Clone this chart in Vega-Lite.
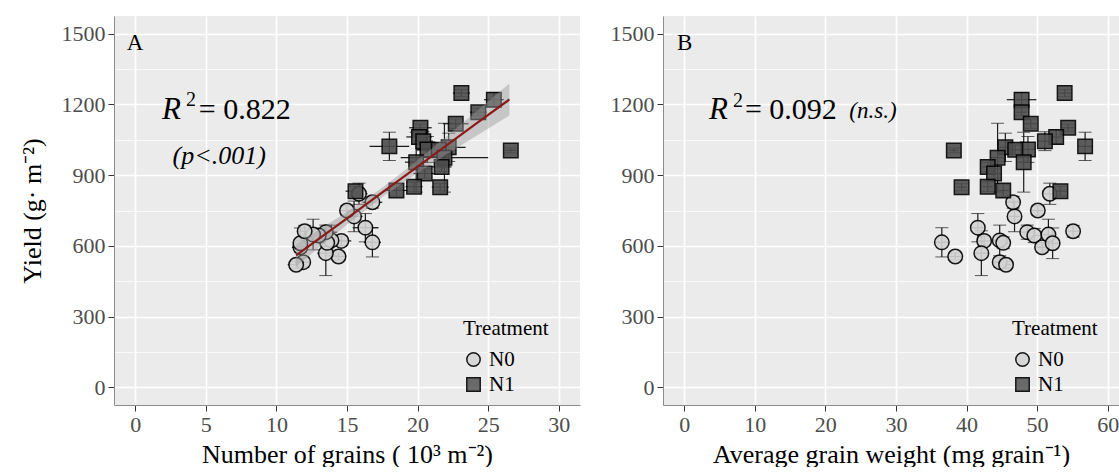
{
  "$schema": "https://vega.github.io/schema/vega-lite/v6.json",
  "background": "white",
  "padding": {"left": 19, "top": 16, "right": 0, "bottom": 0},
  "config": {
    "font": "Liberation Serif",
    "view": {"fill": "#EBEBEB", "stroke": null},
    "concat": {"spacing": 30},
    "axis": {
      "domainColor": "#8C8C8C",
      "domainWidth": 1,
      "tickColor": "#333333",
      "tickSize": 6,
      "tickWidth": 1,
      "labelFont": "Liberation Serif",
      "labelFontSize": 22,
      "labelColor": "#4D4D4D",
      "labelPadding": 3,
      "labelFlush": false,
      "labelOverlap": false,
      "titleFont": "Liberation Serif",
      "titleFontSize": 26,
      "titleFontWeight": "normal",
      "titleColor": "black",
      "gridColor": "white"
    },
    "legend": {
      "titleFont": "Liberation Serif",
      "titleFontSize": 21,
      "titleFontWeight": "normal",
      "titleColor": "black",
      "labelFont": "Liberation Serif",
      "labelFontSize": 21,
      "labelColor": "black",
      "symbolSize": 180,
      "symbolStrokeWidth": 1.5,
      "rowPadding": 3,
      "titlePadding": 10,
      "labelOffset": 5
    }
  },
  "datasets": {
    "obs": [
      {"trt": "N0", "grains": 16.8, "gse": 0.6, "weight": 36.5, "wse": 0.9, "yield": 615, "yse": 62},
      {"trt": "N0", "grains": 14.4, "gse": 0.5, "weight": 38.4, "wse": 0.8, "yield": 555, "yse": 15},
      {"trt": "N0", "grains": 16.3, "gse": 0.9, "weight": 41.6, "wse": 0.8, "yield": 677, "yse": 60},
      {"trt": "N0", "grains": 14.6, "gse": 0.7, "weight": 42.5, "wse": 1.0, "yield": 621, "yse": 20},
      {"trt": "N0", "grains": 13.5, "gse": 0.6, "weight": 42.1, "wse": 0.9, "yield": 569, "yse": 95},
      {"trt": "N0", "grains": 13.9, "gse": 0.8, "weight": 44.7, "wse": 0.9, "yield": 623, "yse": 65},
      {"trt": "N0", "grains": 13.6, "gse": 0.6, "weight": 45.2, "wse": 0.7, "yield": 613, "yse": 25},
      {"trt": "N0", "grains": 11.9, "gse": 0.5, "weight": 44.7, "wse": 0.8, "yield": 531, "yse": 20},
      {"trt": "N0", "grains": 11.4, "gse": 0.6, "weight": 45.6, "wse": 0.7, "yield": 520, "yse": 15},
      {"trt": "N0", "grains": 16.8, "gse": 0.7, "weight": 46.6, "wse": 1.0, "yield": 785, "yse": 25},
      {"trt": "N0", "grains": 15.5, "gse": 0.6, "weight": 46.8, "wse": 0.8, "yield": 725, "yse": 65},
      {"trt": "N0", "grains": 13.5, "gse": 0.8, "weight": 48.6, "wse": 0.9, "yield": 658, "yse": 30},
      {"trt": "N0", "grains": 13.0, "gse": 0.7, "weight": 49.6, "wse": 1.0, "yield": 644, "yse": 30},
      {"trt": "N0", "grains": 15.0, "gse": 0.5, "weight": 50.1, "wse": 0.8, "yield": 750, "yse": 20},
      {"trt": "N0", "grains": 11.7, "gse": 0.6, "weight": 50.7, "wse": 0.9, "yield": 594, "yse": 20},
      {"trt": "N0", "grains": 12.6, "gse": 0.7, "weight": 51.6, "wse": 0.8, "yield": 648, "yse": 65},
      {"trt": "N0", "grains": 11.7, "gse": 0.5, "weight": 52.2, "wse": 1.0, "yield": 611, "yse": 65},
      {"trt": "N0", "grains": 15.85, "gse": 0.6, "weight": 51.8, "wse": 0.9, "yield": 821, "yse": 45},
      {"trt": "N0", "grains": 12.0, "gse": 0.5, "weight": 55.1, "wse": 0.8, "yield": 662, "yse": 25},
      {"trt": "N1", "grains": 23.1, "gse": 0.6, "weight": 53.9, "wse": 0.9, "yield": 1248, "yse": 15},
      {"trt": "N1", "grains": 25.4, "gse": 0.7, "weight": 47.8, "wse": 2.1, "yield": 1220, "yse": 30},
      {"trt": "N1", "grains": 24.3, "gse": 0.6, "weight": 47.8, "wse": 0.8, "yield": 1167, "yse": 15},
      {"trt": "N1", "grains": 22.7, "gse": 0.9, "weight": 49.1, "wse": 0.9, "yield": 1118, "yse": 20},
      {"trt": "N1", "grains": 26.6, "gse": 0.4, "weight": 38.2, "wse": 0.6, "yield": 1005, "yse": 10},
      {"trt": "N1", "grains": 18.0, "gse": 1.4, "weight": 56.8, "wse": 1.0, "yield": 1022, "yse": 60},
      {"trt": "N1", "grains": 20.2, "gse": 0.8, "weight": 54.4, "wse": 0.9, "yield": 1101, "yse": 15},
      {"trt": "N1", "grains": 20.1, "gse": 0.9, "weight": 52.7, "wse": 0.8, "yield": 1062, "yse": 30},
      {"trt": "N1", "grains": 20.4, "gse": 0.7, "weight": 51.1, "wse": 1.0, "yield": 1044, "yse": 40},
      {"trt": "N1", "grains": 20.7, "gse": 0.8, "weight": 48.7, "wse": 0.9, "yield": 1009, "yse": 55},
      {"trt": "N1", "grains": 22.2, "gse": 1.2, "weight": 45.5, "wse": 0.8, "yield": 1018, "yse": 60},
      {"trt": "N1", "grains": 21.5, "gse": 0.9, "weight": 46.9, "wse": 1.0, "yield": 1008, "yse": 20},
      {"trt": "N1", "grains": 19.9, "gse": 0.8, "weight": 48.1, "wse": 0.9, "yield": 955, "yse": 127},
      {"trt": "N1", "grains": 21.9, "gse": 3.1, "weight": 44.4, "wse": 0.9, "yield": 974, "yse": 146},
      {"trt": "N1", "grains": 21.7, "gse": 0.7, "weight": 43.0, "wse": 0.8, "yield": 935, "yse": 20},
      {"trt": "N1", "grains": 20.5, "gse": 0.8, "weight": 43.9, "wse": 0.9, "yield": 907, "yse": 20},
      {"trt": "N1", "grains": 19.75, "gse": 0.6, "weight": 43.0, "wse": 0.7, "yield": 851, "yse": 20},
      {"trt": "N1", "grains": 21.6, "gse": 0.6, "weight": 39.3, "wse": 0.7, "yield": 849, "yse": 15},
      {"trt": "N1", "grains": 18.5, "gse": 0.8, "weight": 45.2, "wse": 0.8, "yield": 835, "yse": 25},
      {"trt": "N1", "grains": 15.6, "gse": 0.7, "weight": 53.3, "wse": 0.9, "yield": 832, "yse": 20}
    ],
    "fit": [
      {"grains": 11.4, "fit": 560, "lo": 512, "hi": 608},
      {"grains": 13.0, "fit": 630, "lo": 592, "hi": 668},
      {"grains": 15.0, "fit": 717, "lo": 690, "hi": 744},
      {"grains": 17.5, "fit": 827, "lo": 807, "hi": 847},
      {"grains": 20.0, "fit": 936, "lo": 909, "hi": 963},
      {"grains": 22.0, "fit": 1024, "lo": 986, "hi": 1062},
      {"grains": 24.0, "fit": 1112, "lo": 1061, "hi": 1163},
      {"grains": 26.5, "fit": 1221, "lo": 1153, "hi": 1289}
    ]
  },
  "resolve": {
    "scale": {"shape": "independent", "fill": "independent", "stroke": "independent"},
    "legend": {"shape": "independent", "fill": "independent", "stroke": "independent"}
  },
  "hconcat": [
    {
      "width": 466,
      "height": 389,
      "encoding": {
        "y": {
          "type": "quantitative",
          "scale": {"domain": [-75, 1575], "zero": false, "nice": false},
          "axis": {
            "title": "Yield (g· m⁻²)",
            "titlePadding": 16,
            "format": "d",
            "values": [0, 150, 300, 450, 600, 750, 900, 1050, 1200, 1350, 1500],
            "labelExpr": "datum.value % 300 === 0 ? datum.label : ''",
            "tickOpacity": {"condition": {"test": "datum.value % 300 === 0", "value": 1}, "value": 0},
            "gridWidth": {"condition": {"test": "datum.value % 300 === 0", "value": 1.6}, "value": 0.7}
          }
        }
      },
      "layer": [
        {
          "data": {"name": "obs"},
          "mark": {"type": "errorbar", "ticks": false, "color": "#1A1A1A", "rule": {"strokeWidth": 1.2}},
          "encoding": {
            "x": {"field": "grains", "type": "quantitative", "scale": {"domain": [-1.5, 31.5], "nice": false, "zero": false},
              "axis": {
                "title": "Number of grains ( 10³ m⁻²)",
                "titlePadding": 6,
                "values": [0, 2.5, 5, 7.5, 10, 12.5, 15, 17.5, 20, 22.5, 25, 27.5, 30],
                "labelExpr": "datum.value % 5 === 0 ? datum.label : ''",
                "tickOpacity": {"condition": {"test": "datum.value % 5 === 0", "value": 1}, "value": 0},
                "gridWidth": {"condition": {"test": "datum.value % 5 === 0", "value": 1.6}, "value": 0.7}
              }},
            "xError": {"field": "gse"},
            "y": {"field": "yield", "type": "quantitative"}
          }
        },
        {
          "data": {"name": "obs"},
          "mark": {"type": "errorbar", "ticks": {"size": 13}, "color": "#1A1A1A", "rule": {"strokeWidth": 1.2}},
          "encoding": {
            "x": {"field": "grains", "type": "quantitative"},
            "y": {"field": "yield", "type": "quantitative"},
            "yError": {"field": "yse"}
          }
        },
        {
          "data": {"name": "obs"},
          "mark": {"type": "point", "filled": true, "size": 210, "strokeWidth": 1.5, "opacity": 0.9},
          "encoding": {
            "x": {"field": "grains", "type": "quantitative"},
            "y": {"field": "yield", "type": "quantitative"},
            "shape": {"field": "trt", "type": "nominal", "scale": {"domain": ["N0", "N1"], "range": ["circle", "square"]},
              "legend": {"title": "Treatment", "orient": "none", "legendX": 349, "legendY": 302}},
            "fill": {"field": "trt", "type": "nominal", "scale": {"domain": ["N0", "N1"], "range": ["#D3D3D3", "#4D4D4D"]},
              "legend": {"title": "Treatment", "orient": "none", "legendX": 349, "legendY": 302}},
            "stroke": {"field": "trt", "type": "nominal", "scale": {"domain": ["N0", "N1"], "range": ["black", "black"]},
              "legend": {"title": "Treatment", "orient": "none", "legendX": 349, "legendY": 302}}
          }
        },
        {
          "data": {"name": "fit"},
          "mark": {"type": "area", "color": "#9A9A9A", "opacity": 0.45},
          "encoding": {
            "x": {"field": "grains", "type": "quantitative"},
            "y": {"field": "lo", "type": "quantitative"},
            "y2": {"field": "hi"}
          }
        },
        {
          "data": {"name": "fit"},
          "mark": {"type": "line", "color": "#8B1A1A", "strokeWidth": 2.2},
          "encoding": {
            "x": {"field": "grains", "type": "quantitative"},
            "y": {"field": "fit", "type": "quantitative"}
          }
        },
        {
          "data": {"values": [{}]},
          "mark": {"type": "text", "align": "left", "baseline": "middle", "fontSize": 23, "color": "black"},
          "encoding": {"x": {"datum": -0.6}, "y": {"datum": 1459}, "text": {"value": "A"}}
        },
        {
          "data": {"values": [{}]},
          "mark": {"type": "text", "align": "left", "baseline": "middle", "fontSize": 31, "fontStyle": "italic", "color": "black"},
          "encoding": {"x": {"datum": 1.9}, "y": {"datum": 1178}, "text": {"value": "R"}}
        },
        {
          "data": {"values": [{}]},
          "mark": {"type": "text", "align": "left", "baseline": "middle", "fontSize": 20, "color": "black"},
          "encoding": {"x": {"datum": 3.6}, "y": {"datum": 1217}, "text": {"value": "2"}}
        },
        {
          "data": {"values": [{}]},
          "mark": {"type": "text", "align": "left", "baseline": "middle", "fontSize": 30, "color": "black"},
          "encoding": {"x": {"datum": 4.5}, "y": {"datum": 1178}, "text": {"value": "= 0.822"}}
        },
        {
          "data": {"values": [{}]},
          "mark": {"type": "text", "align": "center", "baseline": "middle", "fontSize": 26, "fontStyle": "italic", "color": "black"},
          "encoding": {"x": {"datum": 5.95}, "y": {"datum": 983}, "text": {"value": "(p<.001)"}}
        }
      ]
    },
    {
      "width": 456,
      "height": 389,
      "encoding": {
        "y": {
          "type": "quantitative",
          "scale": {"domain": [-75, 1575], "zero": false, "nice": false},
          "axis": {
            "title": null,
            "format": "d",
            "values": [0, 150, 300, 450, 600, 750, 900, 1050, 1200, 1350, 1500],
            "labelExpr": "datum.value % 300 === 0 ? datum.label : ''",
            "tickOpacity": {"condition": {"test": "datum.value % 300 === 0", "value": 1}, "value": 0},
            "gridWidth": {"condition": {"test": "datum.value % 300 === 0", "value": 1.6}, "value": 0.7}
          }
        }
      },
      "layer": [
        {
          "data": {"name": "obs"},
          "mark": {"type": "errorbar", "ticks": false, "color": "#1A1A1A", "rule": {"strokeWidth": 1.2}},
          "encoding": {
            "x": {"field": "weight", "type": "quantitative", "scale": {"domain": [-3, 61.6], "nice": false, "zero": false},
              "axis": {
                "title": "Average grain weight (mg grain⁻¹)",
                "titlePadding": 6,
                "values": [0, 5, 10, 15, 20, 25, 30, 35, 40, 45, 50, 55, 60],
                "labelExpr": "datum.value % 10 === 0 ? datum.label : ''",
                "tickOpacity": {"condition": {"test": "datum.value % 10 === 0", "value": 1}, "value": 0},
                "gridWidth": {"condition": {"test": "datum.value % 10 === 0", "value": 1.6}, "value": 0.7}
              }},
            "xError": {"field": "wse"},
            "y": {"field": "yield", "type": "quantitative"}
          }
        },
        {
          "data": {"name": "obs"},
          "mark": {"type": "errorbar", "ticks": {"size": 13}, "color": "#1A1A1A", "rule": {"strokeWidth": 1.2}},
          "encoding": {
            "x": {"field": "weight", "type": "quantitative"},
            "y": {"field": "yield", "type": "quantitative"},
            "yError": {"field": "yse"}
          }
        },
        {
          "data": {"name": "obs"},
          "mark": {"type": "point", "filled": true, "size": 210, "strokeWidth": 1.5, "opacity": 0.9},
          "encoding": {
            "x": {"field": "weight", "type": "quantitative"},
            "y": {"field": "yield", "type": "quantitative"},
            "shape": {"field": "trt", "type": "nominal", "scale": {"domain": ["N0", "N1"], "range": ["circle", "square"]},
              "legend": {"title": "Treatment", "orient": "none", "legendX": 349, "legendY": 302}},
            "fill": {"field": "trt", "type": "nominal", "scale": {"domain": ["N0", "N1"], "range": ["#D3D3D3", "#4D4D4D"]},
              "legend": {"title": "Treatment", "orient": "none", "legendX": 349, "legendY": 302}},
            "stroke": {"field": "trt", "type": "nominal", "scale": {"domain": ["N0", "N1"], "range": ["black", "black"]},
              "legend": {"title": "Treatment", "orient": "none", "legendX": 349, "legendY": 302}}
          }
        },
        {
          "data": {"values": [{}]},
          "mark": {"type": "text", "align": "left", "baseline": "middle", "fontSize": 23, "color": "black"},
          "encoding": {"x": {"datum": -1.0}, "y": {"datum": 1459}, "text": {"value": "B"}}
        },
        {
          "data": {"values": [{}]},
          "mark": {"type": "text", "align": "left", "baseline": "middle", "fontSize": 31, "fontStyle": "italic", "color": "black"},
          "encoding": {"x": {"datum": 3.5}, "y": {"datum": 1175}, "text": {"value": "R"}}
        },
        {
          "data": {"values": [{}]},
          "mark": {"type": "text", "align": "left", "baseline": "middle", "fontSize": 20, "color": "black"},
          "encoding": {"x": {"datum": 6.9}, "y": {"datum": 1214}, "text": {"value": "2"}}
        },
        {
          "data": {"values": [{}]},
          "mark": {"type": "text", "align": "left", "baseline": "middle", "fontSize": 30, "color": "black"},
          "encoding": {"x": {"datum": 8.6}, "y": {"datum": 1175}, "text": {"value": "= 0.092"}}
        },
        {
          "data": {"values": [{}]},
          "mark": {"type": "text", "align": "left", "baseline": "middle", "fontSize": 23, "fontStyle": "italic", "color": "black"},
          "encoding": {"x": {"datum": 23.4}, "y": {"datum": 1172}, "text": {"value": "(n.s.)"}}
        }
      ]
    }
  ]
}
